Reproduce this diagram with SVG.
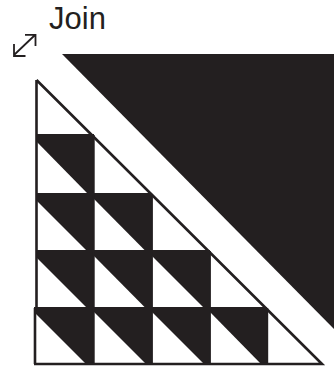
<svg xmlns="http://www.w3.org/2000/svg" width="334" height="366" viewBox="0 0 334 366">
<style>
.k{fill:#231f20}
.l{fill:none;stroke:#231f20;stroke-width:2.6}
.g{fill:none;stroke:#231f20;stroke-width:1.8}
text{font-family:"Liberation Sans",Arial,sans-serif;font-size:31px;fill:#231f20}
</style>
<rect width="334" height="366" fill="#fff"/>
<g id="label"><text x="49" y="28.500">Join</text></g>
<g id="arrow">
<path class="g" d="M14 55L35 35M25 34.800H35.500V46M14 44V56H25.500"/>
</g>
<g id="large-triangle"><path class="k" d="M62 54H334V329Z"/></g>
<g id="grid">
<path class="k" d="M36 135H94V193H87L36 141Z"/>
<path class="k" d="M36 194H94V251H87L36 200Z"/>
<path class="k" d="M94 194H152V251H145.500L94 199Z"/>
<path class="k" d="M36 251H94V308H87L36 257Z"/>
<path class="k" d="M94 251H152V308H145.500L94 256Z"/>
<path class="k" d="M152 251H210V308H204L152 256Z"/>
<path class="k" d="M34 308H93V364H86L34 312Z"/>
<path class="k" d="M94 308H152V364H146L94 312Z"/>
<path class="k" d="M152 308H210V364H204L152 312Z"/>
<path class="k" d="M210 308H267.500V364H261L210 312Z"/>
<path class="l" d="M36.500 80V308M35 308V364M36.500 80L322 364H34"/>
<path class="g" d="M36 135H94M36 194H152M36 251H210M34 308H267M93.800 135V364M152 194V364M210 251V364M267.300 308V364"/>
</g>
</svg>
